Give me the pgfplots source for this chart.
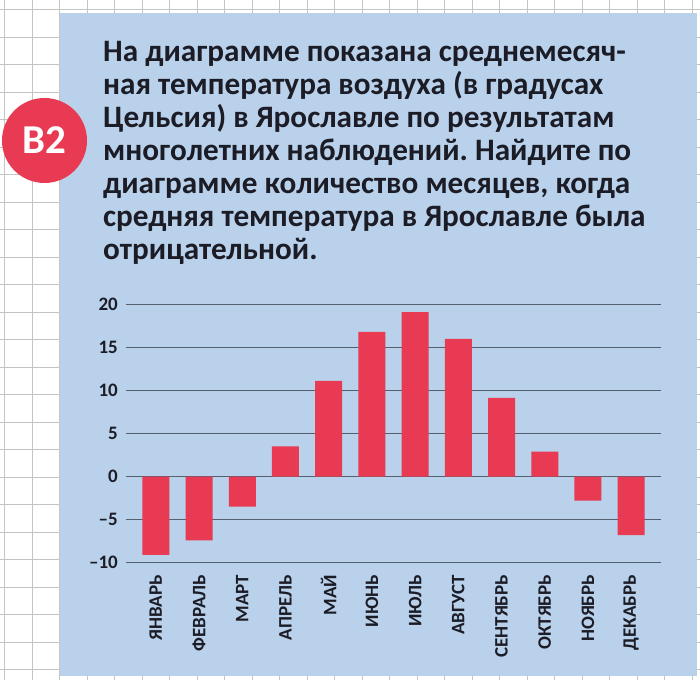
\documentclass[border=0pt]{standalone}
\usepackage{pgfplots}
\pgfplotsset{compat=1.18}
\usepackage{fontspec}
\setmainfont{Carlito}
\frenchspacing
\definecolor{panel}{HTML}{B9D1EA}
\definecolor{barred}{HTML}{E83A52}
\definecolor{gridc}{HTML}{56606E}
\definecolor{txt}{HTML}{1C1C26}
\definecolor{paperline}{HTML}{C4C4C4}
\begin{document}
\begin{tikzpicture}[x=1pt,y=1pt]
\path[use as bounding box] (0,0) rectangle (700,680);
\fill[white] (0,0) rectangle (700,680);
\foreach \i in {0,...,25} {\draw[paperline, line width=0.9pt] ({4.5+27.5*\i},0) -- ({4.5+27.5*\i},680);}
\foreach \i in {0,...,24} {\draw[paperline, line width=0.9pt] (0,{680-9.5-27.5*\i}) -- (700,{680-9.5-27.5*\i});}
\fill[panel] (60,4) rectangle (697,667);
\fill[barred] (44.5,539.5) circle (42.5);
\node[text=white, font=\fontsize{41}{41}\selectfont\bfseries] at (44.5,539.5) {В2};
\foreach \t [count=\i from 0] in {На диаграмме показана среднемесяч-,
  ная температура воздуха (в градусах,
  Цельсия) в Ярославле по результатам,
  многолетних наблюдений. Найдите по,
  диаграмме количество месяцев{,} когда,
  средняя температура в Ярославле была,
  отрицательной.}
  {\node[anchor=base west, inner sep=0pt, text=txt, font=\fontsize{31.2}{33}\selectfont\bfseries] at (103,{680-62-33*\i}) {\t};}
\begin{axis}[
  at={(126pt,117.3pt)}, anchor=south west,
  scale only axis, width=535pt, height=258.4pt,
  xmin=-0.69, xmax=11.69, ymin=-10, ymax=20,
  axis line style={draw=none},
  major tick length=0pt,
  ytick={-10,-5,0,5,10,15,20},
  yticklabels={–10,–5,0,5,10,15,20},
  xtick={0,...,11},
  xticklabels={ЯНВАРЬ,ФЕВРАЛЬ,МАРТ,АПРЕЛЬ,МАЙ,ИЮНЬ,ИЮЛЬ,АВГУСТ,СЕНТЯБРЬ,ОКТЯБРЬ,НОЯБРЬ,ДЕКАБРЬ},
  ymajorgrids,
  grid style={gridc, line width=1.2pt},
  yticklabel style={anchor=east, inner sep=0pt, xshift=-8pt, text=txt, font=\fontsize{19}{19}\selectfont\bfseries},
  xticklabel style={rotate=90, anchor=east, inner sep=0pt, text=txt, font=\fontsize{19}{19}\selectfont\bfseries},
  xticklabel shift=12pt,
  ybar, bar width=27pt, bar shift=0pt,
]
\addplot[fill=barred, draw=none] coordinates {
  (0,-9.1) (1,-7.4) (2,-3.5) (3,3.5) (4,11.1) (5,16.8)
  (6,19.1) (7,16.0) (8,9.15) (9,2.9) (10,-2.8) (11,-6.8)};
\end{axis}
\end{tikzpicture}
\end{document}
